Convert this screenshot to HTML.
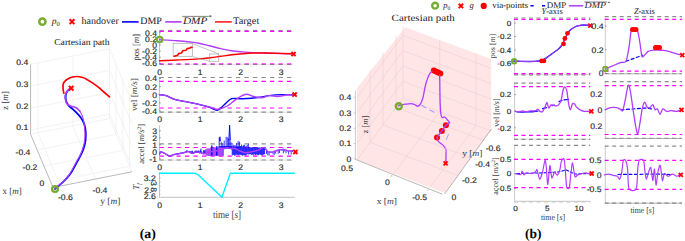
<!DOCTYPE html><html><head><meta charset="utf-8"><style>html,body{margin:0;padding:0;background:#fff;width:685px;height:241px;overflow:hidden}svg{display:block} text{text-rendering:geometricPrecision}</style></head><body>
<svg width="685" height="241" viewBox="0 0 685 241">
<rect width="685" height="241" fill="#fff"/>
<circle cx="42.4" cy="21.7" r="3.1" fill="none" stroke="#77ac30" stroke-width="2.5"/>
<text x="51.8" y="24.3" font-size="9.5" font-family="'Liberation Serif', serif" fill="#262626" stroke="#262626" stroke-width="0.03" text-anchor="start" font-style="italic" >p</text>
<text x="56.6" y="26" font-size="6.5" font-family="'Liberation Serif', serif" fill="#262626" stroke="#262626" stroke-width="0.03" text-anchor="start" >0</text>
<path d="M69.6,19.3 L74.4,24.1 M69.6,24.1 L74.4,19.3" stroke="#ff0000" stroke-width="2" stroke-linecap="butt"/>
<text x="81.4" y="24.3" font-size="10" font-family="'Liberation Serif', serif" fill="#262626" stroke="#262626" stroke-width="0.03" text-anchor="start" textLength="37.4" lengthAdjust="spacingAndGlyphs" >handover</text>
<line x1="122" y1="21.9" x2="138.6" y2="21.9" stroke="#0000ff" stroke-width="1.6" />
<text x="140.3" y="24.3" font-size="10" font-family="'Liberation Serif', serif" fill="#262626" stroke="#262626" stroke-width="0.03" text-anchor="start" textLength="21.6" lengthAdjust="spacingAndGlyphs" >DMP</text>
<line x1="165.2" y1="21.9" x2="181.6" y2="21.9" stroke="#b13dff" stroke-width="1.6" />
<text x="182.9" y="24.3" font-size="10" font-family="'Liberation Serif', serif" fill="#262626" stroke="#262626" stroke-width="0.03" text-anchor="start" textLength="24.5" lengthAdjust="spacingAndGlyphs" font-style="italic" >DMP</text>
<line x1="182.3" y1="16.4" x2="208.6" y2="16.4" stroke="#333" stroke-width="0.6" />
<text x="208.8" y="18.6" font-size="6" font-family="'Liberation Serif', serif" fill="#262626" stroke="#262626" stroke-width="0.03" text-anchor="start" >*</text>
<line x1="215" y1="21.9" x2="231.8" y2="21.9" stroke="#ff0000" stroke-width="1.4" />
<text x="233" y="24.3" font-size="10" font-family="'Liberation Serif', serif" fill="#262626" stroke="#262626" stroke-width="0.03" text-anchor="start" textLength="26.4" lengthAdjust="spacingAndGlyphs" >Target</text>
<text x="54.2" y="45.1" font-size="9" font-family="'Liberation Serif', serif" fill="#262626" stroke="#262626" stroke-width="0.03" text-anchor="start" textLength="55.4" lengthAdjust="spacingAndGlyphs" >Cartesian path</text>
<line x1="30.6" y1="64.4" x2="109.5" y2="48.7" stroke="#e6e6e6" stroke-width="0.5" />
<line x1="109.5" y1="48.7" x2="131.9" y2="101.9" stroke="#e6e6e6" stroke-width="0.5" />
<line x1="109.5" y1="118.6" x2="109.5" y2="48.7" stroke="#e6e6e6" stroke-width="0.5" />
<line x1="30.6" y1="134.3" x2="109.5" y2="118.6" stroke="#e6e6e6" stroke-width="0.5" />
<line x1="109.5" y1="118.6" x2="131.9" y2="171.8" stroke="#e6e6e6" stroke-width="0.5" />
<line x1="30.6" y1="86.1" x2="109.5" y2="70.4" stroke="#e6e6e6" stroke-width="0.5" />
<line x1="109.5" y1="70.4" x2="131.9" y2="123.6" stroke="#e6e6e6" stroke-width="0.5" />
<line x1="30.6" y1="108.2" x2="109.5" y2="92.5" stroke="#e6e6e6" stroke-width="0.5" />
<line x1="109.5" y1="92.5" x2="131.9" y2="145.7" stroke="#e6e6e6" stroke-width="0.5" />
<line x1="30.6" y1="129.9" x2="109.5" y2="114.2" stroke="#e6e6e6" stroke-width="0.5" />
<line x1="109.5" y1="114.2" x2="131.9" y2="167.4" stroke="#e6e6e6" stroke-width="0.5" />
<line x1="38.02" y1="132.82" x2="38.02" y2="62.92" stroke="#e6e6e6" stroke-width="0.5" />
<line x1="38.02" y1="132.82" x2="60.42" y2="186.02" stroke="#e6e6e6" stroke-width="0.5" />
<line x1="72.97" y1="125.87" x2="72.97" y2="55.97" stroke="#e6e6e6" stroke-width="0.5" />
<line x1="72.97" y1="125.87" x2="95.37" y2="179.07" stroke="#e6e6e6" stroke-width="0.5" />
<line x1="116.11" y1="134.29" x2="116.11" y2="64.39" stroke="#e6e6e6" stroke-width="0.5" />
<line x1="116.11" y1="134.29" x2="37.21" y2="149.99" stroke="#e6e6e6" stroke-width="0.5" />
<line x1="122.85" y1="150.31" x2="122.85" y2="80.41" stroke="#e6e6e6" stroke-width="0.5" />
<line x1="122.85" y1="150.31" x2="43.95" y2="166.01" stroke="#e6e6e6" stroke-width="0.5" />
<line x1="129.59" y1="166.32" x2="129.59" y2="96.42" stroke="#e6e6e6" stroke-width="0.5" />
<line x1="129.59" y1="166.32" x2="50.69" y2="182.02" stroke="#e6e6e6" stroke-width="0.5" />
<line x1="30.6" y1="64.4" x2="30.6" y2="134.3" stroke="#8a8a8a" stroke-width="0.6" />
<line x1="30.6" y1="134.3" x2="53" y2="187.5" stroke="#8a8a8a" stroke-width="0.6" />
<line x1="53" y1="187.5" x2="131.9" y2="171.8" stroke="#8a8a8a" stroke-width="0.6" />
<text x="28.2" y="65.1" font-size="8" font-family="'Liberation Sans', sans-serif" fill="#262626" stroke="#262626" stroke-width="0.15" text-anchor="end" textLength="12.01" lengthAdjust="spacingAndGlyphs" >0.4</text>
<text x="28.2" y="86.5" font-size="8" font-family="'Liberation Sans', sans-serif" fill="#262626" stroke="#262626" stroke-width="0.15" text-anchor="end" textLength="12.01" lengthAdjust="spacingAndGlyphs" >0.3</text>
<text x="28.2" y="108.6" font-size="8" font-family="'Liberation Sans', sans-serif" fill="#262626" stroke="#262626" stroke-width="0.15" text-anchor="end" textLength="12.01" lengthAdjust="spacingAndGlyphs" >0.2</text>
<text x="28.2" y="130.3" font-size="8" font-family="'Liberation Sans', sans-serif" fill="#262626" stroke="#262626" stroke-width="0.15" text-anchor="end" textLength="12.01" lengthAdjust="spacingAndGlyphs" >0.1</text>
<text x="23" y="154.6" font-size="8" font-family="'Liberation Sans', sans-serif" fill="#262626" stroke="#262626" stroke-width="0.15" text-anchor="middle" textLength="14.89" lengthAdjust="spacingAndGlyphs" >-0.4</text>
<text x="30" y="170.4" font-size="8" font-family="'Liberation Sans', sans-serif" fill="#262626" stroke="#262626" stroke-width="0.15" text-anchor="middle" textLength="14.89" lengthAdjust="spacingAndGlyphs" >-0.2</text>
<text x="42" y="185.9" font-size="8" font-family="'Liberation Sans', sans-serif" fill="#262626" stroke="#262626" stroke-width="0.15" text-anchor="middle" textLength="4.8" lengthAdjust="spacingAndGlyphs" >0</text>
<text x="65.4" y="199.9" font-size="8" font-family="'Liberation Sans', sans-serif" fill="#262626" stroke="#262626" stroke-width="0.15" text-anchor="middle" textLength="14.89" lengthAdjust="spacingAndGlyphs" >-0.6</text>
<text x="100" y="192.9" font-size="8" font-family="'Liberation Sans', sans-serif" fill="#262626" stroke="#262626" stroke-width="0.15" text-anchor="middle" textLength="14.89" lengthAdjust="spacingAndGlyphs" >-0.4</text>
<text x="7.6" y="100.6" font-size="9" font-family="'Liberation Serif', serif" fill="#404040" stroke="#404040" stroke-width="0.03" text-anchor="middle" textLength="19" lengthAdjust="spacingAndGlyphs" transform="rotate(-90 7.6 100.6)" >z [<tspan font-style="italic">m</tspan>]</text>
<text x="2.6" y="194" font-size="9" font-family="'Liberation Serif', serif" fill="#404040" stroke="#404040" stroke-width="0.03" text-anchor="start" textLength="19.2" lengthAdjust="spacingAndGlyphs" >x [<tspan font-style="italic">m</tspan>]</text>
<text x="100.2" y="204.2" font-size="9" font-family="'Liberation Serif', serif" fill="#404040" stroke="#404040" stroke-width="0.03" text-anchor="start" textLength="20.2" lengthAdjust="spacingAndGlyphs" >y [<tspan font-style="italic">m</tspan>]</text>
<path d="M63.8,93.2 C63.68,92.48 63.22,90.35 63.1,88.9 C62.98,87.45 62.87,85.72 63.1,84.5 C63.33,83.28 63.65,82.57 64.5,81.6 C65.35,80.63 66.87,79.47 68.2,78.7 C69.53,77.93 71.05,77.37 72.5,77 C73.95,76.63 75.33,76.45 76.9,76.5 C78.47,76.55 80.22,76.82 81.9,77.3 C83.58,77.78 85.18,78.43 87,79.4 C88.82,80.37 90.87,81.77 92.8,83.1 C94.73,84.43 96.67,85.83 98.6,87.4 C100.53,88.97 102.58,90.92 104.4,92.5 C106.22,94.08 108.65,96.17 109.5,96.9" fill="none" stroke="#ff0000" stroke-width="1.7" stroke-linejoin="round" stroke-linecap="round" />
<path d="M69.5,89.1 C69.17,89.42 68.08,90.18 67.5,91 C66.92,91.82 66.32,92.92 66,94 C65.68,95.08 65.57,96.3 65.6,97.5 C65.63,98.7 65.68,99.85 66.2,101.2 C66.72,102.55 67.65,104.32 68.7,105.6 C69.75,106.88 71.05,107.55 72.5,108.9 C73.95,110.25 75.95,112.15 77.4,113.7 C78.85,115.25 80.15,116.72 81.2,118.2 C82.25,119.68 83.02,120.92 83.7,122.6 C84.38,124.28 84.95,126.25 85.3,128.3 C85.65,130.35 85.83,132.42 85.8,134.9 C85.77,137.38 85.55,140.7 85.1,143.2 C84.65,145.7 83.87,147.82 83.1,149.9 C82.33,151.98 81.48,153.75 80.5,155.7 C79.52,157.65 78.35,159.5 77.2,161.6 C76.05,163.7 74.77,166.22 73.6,168.3 C72.43,170.38 71.47,172.32 70.2,174.1 C68.93,175.88 67.4,177.48 66,179 C64.6,180.52 63.33,181.82 61.8,183.2 C60.27,184.58 57.93,186.33 56.8,187.3 C55.67,188.27 55.3,188.72 55,189" fill="none" stroke="#0000ff" stroke-width="1.8" stroke-linejoin="round" stroke-linecap="round" />
<path d="M69.5,89.1 C69.13,89.42 67.95,90.18 67.3,91 C66.65,91.82 65.97,92.92 65.6,94 C65.23,95.08 65.1,96.5 65.1,97.5 C65.1,98.5 65.32,98.97 65.6,100 C65.88,101.03 65.87,102.67 66.8,103.7 C67.73,104.73 69.63,105.53 71.2,106.2 C72.77,106.87 74.75,106.87 76.2,107.7 C77.65,108.53 79.28,110.62 79.9,111.2" fill="none" stroke="#b13dff" stroke-width="1.6" stroke-linejoin="round" stroke-linecap="round" />
<path d="M79.9,111.2 C80.32,112.03 81.77,114.53 82.4,116.2 C83.03,117.87 83.33,119.18 83.7,121.2 C84.07,123.22 84.38,126.02 84.6,128.3 C84.82,130.58 85.07,132.42 85,134.9 C84.93,137.38 84.65,140.7 84.2,143.2 C83.75,145.7 83.03,147.82 82.3,149.9 C81.57,151.98 80.77,153.75 79.8,155.7 C78.83,157.65 77.63,159.5 76.5,161.6 C75.37,163.7 74.15,166.22 73,168.3 C71.85,170.38 70.83,172.32 69.6,174.1 C68.37,175.88 66.97,177.48 65.6,179 C64.23,180.52 62.92,181.87 61.4,183.2 C59.88,184.53 57.57,186.03 56.5,187 C55.43,187.97 55.25,188.67 55,189" fill="none" stroke="#b13dff" stroke-width="1.1" stroke-linejoin="round" stroke-linecap="round" />
<path d="M68.9,85.9 L73.5,90.5 M68.9,90.5 L73.5,85.9" stroke="#ff0000" stroke-width="2" stroke-linecap="butt"/>
<circle cx="55" cy="189" r="2.9" fill="none" stroke="#77ac30" stroke-width="2.3"/>
<line x1="159.5" y1="30.5" x2="159.5" y2="64.8" stroke="#9a9a9a" stroke-width="0.6" />
<line x1="159.5" y1="64.7" x2="292.6" y2="64.7" stroke="#dcdcdc" stroke-width="1" />
<line x1="159.5" y1="30.4" x2="292.6" y2="30.4" stroke="#8c8c8c" stroke-width="1" stroke-dasharray="4.3 4.2"/>
<line x1="159.5" y1="31.4" x2="292.6" y2="31.4" stroke="#ff00ff" stroke-width="1.1" stroke-dasharray="4.3 4.2"/>
<line x1="159.5" y1="64.5" x2="292.6" y2="64.5" stroke="#8c8c8c" stroke-width="1" stroke-dasharray="4.3 4.2"/>
<line x1="159.5" y1="63.8" x2="292.6" y2="63.8" stroke="#ff00ff" stroke-width="0.9" stroke-dasharray="4.3 4.2"/>
<text x="157" y="35.7" font-size="8" font-family="'Liberation Sans', sans-serif" fill="#262626" stroke="#262626" stroke-width="0.15" text-anchor="end" textLength="12.01" lengthAdjust="spacingAndGlyphs" >0.4</text>
<line x1="159.5" y1="32.8" x2="160.8" y2="32.8" stroke="#262626" stroke-width="0.5" />
<text x="157" y="41.8" font-size="8" font-family="'Liberation Sans', sans-serif" fill="#262626" stroke="#262626" stroke-width="0.15" text-anchor="end" textLength="12.01" lengthAdjust="spacingAndGlyphs" >0.2</text>
<line x1="159.5" y1="38.9" x2="160.8" y2="38.9" stroke="#262626" stroke-width="0.5" />
<text x="157" y="47.9" font-size="8" font-family="'Liberation Sans', sans-serif" fill="#262626" stroke="#262626" stroke-width="0.15" text-anchor="end" textLength="4.8" lengthAdjust="spacingAndGlyphs" >0</text>
<line x1="159.5" y1="45" x2="160.8" y2="45" stroke="#262626" stroke-width="0.5" />
<text x="157" y="54" font-size="8" font-family="'Liberation Sans', sans-serif" fill="#262626" stroke="#262626" stroke-width="0.15" text-anchor="end" textLength="14.89" lengthAdjust="spacingAndGlyphs" >-0.2</text>
<line x1="159.5" y1="51.1" x2="160.8" y2="51.1" stroke="#262626" stroke-width="0.5" />
<text x="157" y="60.1" font-size="8" font-family="'Liberation Sans', sans-serif" fill="#262626" stroke="#262626" stroke-width="0.15" text-anchor="end" textLength="14.89" lengthAdjust="spacingAndGlyphs" >-0.4</text>
<line x1="159.5" y1="57.2" x2="160.8" y2="57.2" stroke="#262626" stroke-width="0.5" />
<text x="157" y="66.2" font-size="8" font-family="'Liberation Sans', sans-serif" fill="#262626" stroke="#262626" stroke-width="0.15" text-anchor="end" textLength="14.89" lengthAdjust="spacingAndGlyphs" >-0.6</text>
<line x1="159.5" y1="63.3" x2="160.8" y2="63.3" stroke="#262626" stroke-width="0.5" />
<text x="138.6" y="47.2" font-size="9" font-family="'Liberation Serif', serif" fill="#404040" stroke="#404040" stroke-width="0.03" text-anchor="middle" textLength="27" lengthAdjust="spacingAndGlyphs" transform="rotate(-90 138.6 47.2)" >pos [<tspan font-style="italic">m</tspan>]</text>
<path d="M159.5,39.7 C162.4,39.88 171.82,40.42 176.9,40.8 C181.98,41.18 186.35,41.6 190,42 C193.65,42.4 195.52,42.57 198.8,43.2 C202.08,43.83 206.05,44.9 209.7,45.8 C213.35,46.7 217.05,47.77 220.7,48.6 C224.35,49.43 227.95,50.25 231.6,50.8 C235.25,51.35 238.95,51.6 242.6,51.9 C246.25,52.2 249.85,52.42 253.5,52.6 C257.15,52.78 260.08,52.85 264.5,53 C268.92,53.15 275.42,53.37 280,53.5 C284.58,53.63 290,53.75 292,53.8" fill="none" stroke="#b13dff" stroke-width="1.4" stroke-linejoin="round" stroke-linecap="round" />
<path d="M159.5,60.7 C162.4,60.58 170.35,60.3 176.9,60 C183.45,59.7 193.28,59.27 198.8,58.9 C204.32,58.53 206.35,58.23 210,57.8 C213.65,57.37 217.1,56.8 220.7,56.3 C224.3,55.8 227.95,55.23 231.6,54.8 C235.25,54.37 238.95,54 242.6,53.7 C246.25,53.4 249.85,53.12 253.5,53 C257.15,52.88 260.08,52.93 264.5,53 C268.92,53.07 275.42,53.27 280,53.4 C284.58,53.53 290,53.73 292,53.8" fill="none" stroke="#ff0000" stroke-width="1.4" stroke-linejoin="round" stroke-linecap="round" />
<rect x="173.1" y="43.6" width="19.5" height="13" fill="#fff" stroke="#8a8a8a" stroke-width="0.5"/>
<path d="M174.1,56.2 L177.6,55.3 L178.7,53.5 L181.6,53 L182.6,50.8 L186.1,50.2 L187.1,48.6 L189.8,48.1 L190.8,47.3 L192,47.4" fill="none" stroke="#ff0000" stroke-width="1.6" stroke-linejoin="round" stroke-linecap="round" stroke-linejoin="miter"/>
<rect x="209.4" y="54" width="9.4" height="7.2" fill="none" stroke="#8a8a8a" stroke-width="0.5"/>
<line x1="192.6" y1="43.6" x2="218.8" y2="54" stroke="#8a8a8a" stroke-width="0.5" />
<line x1="192.6" y1="56.6" x2="209.4" y2="61.2" stroke="#8a8a8a" stroke-width="0.5" />
<path d="M291.4,52 L295.6,56.2 M291.4,56.2 L295.6,52" stroke="#ff0000" stroke-width="1.9" stroke-linecap="butt"/>
<circle cx="159.6" cy="39.5" r="2.8" fill="none" stroke="#77ac30" stroke-width="2.1"/>
<text x="159.6" y="75" font-size="8" font-family="'Liberation Sans', sans-serif" fill="#262626" stroke="#262626" stroke-width="0.15" text-anchor="middle" textLength="4.8" lengthAdjust="spacingAndGlyphs" >0</text>
<text x="200.1" y="75" font-size="8" font-family="'Liberation Sans', sans-serif" fill="#262626" stroke="#262626" stroke-width="0.15" text-anchor="middle" textLength="4.8" lengthAdjust="spacingAndGlyphs" >1</text>
<text x="240.6" y="75" font-size="8" font-family="'Liberation Sans', sans-serif" fill="#262626" stroke="#262626" stroke-width="0.15" text-anchor="middle" textLength="4.8" lengthAdjust="spacingAndGlyphs" >2</text>
<text x="281.1" y="75" font-size="8" font-family="'Liberation Sans', sans-serif" fill="#262626" stroke="#262626" stroke-width="0.15" text-anchor="middle" textLength="4.8" lengthAdjust="spacingAndGlyphs" >3</text>
<line x1="159.5" y1="77" x2="159.5" y2="112.3" stroke="#9a9a9a" stroke-width="0.6" />
<line x1="159.5" y1="77.5" x2="292.6" y2="77.5" stroke="#8c8c8c" stroke-width="1.2" stroke-dasharray="4.3 4.2"/>
<line x1="159.5" y1="81.3" x2="292.6" y2="81.3" stroke="#ff00ff" stroke-width="1.2" stroke-dasharray="4.3 4.2"/>
<line x1="159.5" y1="108" x2="292.6" y2="108" stroke="#ff00ff" stroke-width="1.2" stroke-dasharray="4.3 4.2"/>
<line x1="159.5" y1="112.2" x2="292.6" y2="112.2" stroke="#dcdcdc" stroke-width="1" />
<line x1="159.5" y1="112.1" x2="292.6" y2="112.1" stroke="#8c8c8c" stroke-width="1.2" stroke-dasharray="4.3 4.2"/>
<text x="157" y="81.4" font-size="8" font-family="'Liberation Sans', sans-serif" fill="#262626" stroke="#262626" stroke-width="0.15" text-anchor="end" textLength="12.01" lengthAdjust="spacingAndGlyphs" >0.4</text>
<line x1="159.5" y1="78.5" x2="160.8" y2="78.5" stroke="#262626" stroke-width="0.5" />
<text x="157" y="89.5" font-size="8" font-family="'Liberation Sans', sans-serif" fill="#262626" stroke="#262626" stroke-width="0.15" text-anchor="end" textLength="12.01" lengthAdjust="spacingAndGlyphs" >0.2</text>
<line x1="159.5" y1="86.6" x2="160.8" y2="86.6" stroke="#262626" stroke-width="0.5" />
<text x="157" y="97.6" font-size="8" font-family="'Liberation Sans', sans-serif" fill="#262626" stroke="#262626" stroke-width="0.15" text-anchor="end" textLength="4.8" lengthAdjust="spacingAndGlyphs" >0</text>
<line x1="159.5" y1="94.7" x2="160.8" y2="94.7" stroke="#262626" stroke-width="0.5" />
<text x="157" y="105.7" font-size="8" font-family="'Liberation Sans', sans-serif" fill="#262626" stroke="#262626" stroke-width="0.15" text-anchor="end" textLength="14.89" lengthAdjust="spacingAndGlyphs" >-0.2</text>
<line x1="159.5" y1="102.8" x2="160.8" y2="102.8" stroke="#262626" stroke-width="0.5" />
<text x="157" y="113.8" font-size="8" font-family="'Liberation Sans', sans-serif" fill="#262626" stroke="#262626" stroke-width="0.15" text-anchor="end" textLength="14.89" lengthAdjust="spacingAndGlyphs" >-0.4</text>
<line x1="159.5" y1="110.9" x2="160.8" y2="110.9" stroke="#262626" stroke-width="0.5" />
<text x="137.4" y="94.6" font-size="8.8" font-family="'Liberation Serif', serif" fill="#404040" stroke="#404040" stroke-width="0.03" text-anchor="middle" textLength="33" lengthAdjust="spacingAndGlyphs" transform="rotate(-90 137.4 94.6)" >vel [<tspan font-style="italic">m/s</tspan>]</text>
<path d="M159.4,94.6 C160.5,94.77 163.45,94.8 166,95.6 C168.55,96.4 171.42,98.4 174.7,99.4 C177.98,100.4 181.68,100.77 185.7,101.6 C189.72,102.43 194.8,103.43 198.8,104.4 C202.8,105.37 206.6,106.42 209.7,107.4 C212.8,108.38 215.02,110.7 217.4,110.3 C219.78,109.9 221.63,106.93 224,105 C226.37,103.07 228.5,99.75 231.6,98.7 C234.7,97.65 237.87,98.95 242.6,98.7 C247.33,98.45 255.62,97.72 260,97.2 C264.38,96.68 265.23,96.03 268.9,95.6 C272.57,95.17 277.82,94.7 282,94.6 C286.18,94.5 292,94.93 294,95" fill="none" stroke="#0000ff" stroke-width="1.4" stroke-linejoin="round" stroke-linecap="round" />
<path d="M159.4,94.6 C160.5,94.77 163.45,94.8 166,95.6 C168.55,96.4 171.42,98.4 174.7,99.4 C177.98,100.4 181.68,100.77 185.7,101.6 C189.72,102.43 194.8,103.5 198.8,104.4 C202.8,105.3 206.6,106.2 209.7,107 C212.8,107.8 214.47,109.37 217.4,109.2 C220.33,109.03 224.2,107.63 227.3,106 C230.4,104.37 232.9,101.35 236,99.4 C239.1,97.45 242.98,94.78 245.9,94.3 C248.82,93.82 250.77,95.92 253.5,96.5 C256.23,97.08 259.73,97.95 262.3,97.8 C264.87,97.65 266.35,95.82 268.9,95.6 C271.45,95.38 274.68,96.6 277.6,96.5 C280.52,96.4 283.67,95.25 286.4,95 C289.13,94.75 292.73,95 294,95" fill="none" stroke="#b13dff" stroke-width="1.4" stroke-linejoin="round" stroke-linecap="round" />
<path d="M292.5,92.5 L296.7,96.7 M292.5,96.7 L296.7,92.5" stroke="#ff0000" stroke-width="1.9" stroke-linecap="butt"/>
<text x="159.6" y="121.9" font-size="8" font-family="'Liberation Sans', sans-serif" fill="#262626" stroke="#262626" stroke-width="0.15" text-anchor="middle" textLength="4.8" lengthAdjust="spacingAndGlyphs" >0</text>
<text x="200.1" y="121.9" font-size="8" font-family="'Liberation Sans', sans-serif" fill="#262626" stroke="#262626" stroke-width="0.15" text-anchor="middle" textLength="4.8" lengthAdjust="spacingAndGlyphs" >1</text>
<text x="240.6" y="121.9" font-size="8" font-family="'Liberation Sans', sans-serif" fill="#262626" stroke="#262626" stroke-width="0.15" text-anchor="middle" textLength="4.8" lengthAdjust="spacingAndGlyphs" >2</text>
<text x="281.1" y="121.9" font-size="8" font-family="'Liberation Sans', sans-serif" fill="#262626" stroke="#262626" stroke-width="0.15" text-anchor="middle" textLength="4.8" lengthAdjust="spacingAndGlyphs" >3</text>
<line x1="159.5" y1="125.3" x2="159.5" y2="160.4" stroke="#9a9a9a" stroke-width="0.6" />
<line x1="159.5" y1="143.8" x2="292.6" y2="143.8" stroke="#8c8c8c" stroke-width="1.2" stroke-dasharray="4.3 4.2"/>
<line x1="159.5" y1="147.5" x2="292.6" y2="147.5" stroke="#ff00ff" stroke-width="1.2" stroke-dasharray="4.3 4.2"/>
<line x1="159.5" y1="156.1" x2="292.6" y2="156.1" stroke="#ff00ff" stroke-width="1.2" stroke-dasharray="4.3 4.2"/>
<line x1="159.5" y1="160.1" x2="292.6" y2="160.1" stroke="#dcdcdc" stroke-width="1" />
<line x1="159.5" y1="160" x2="292.6" y2="160" stroke="#8c8c8c" stroke-width="1.2" stroke-dasharray="4.3 4.2"/>
<text x="157" y="133.7" font-size="8" font-family="'Liberation Sans', sans-serif" fill="#262626" stroke="#262626" stroke-width="0.15" text-anchor="end" textLength="4.8" lengthAdjust="spacingAndGlyphs" >3</text>
<line x1="159.5" y1="130.8" x2="160.8" y2="130.8" stroke="#262626" stroke-width="0.5" />
<text x="157" y="140.7" font-size="8" font-family="'Liberation Sans', sans-serif" fill="#262626" stroke="#262626" stroke-width="0.15" text-anchor="end" textLength="4.8" lengthAdjust="spacingAndGlyphs" >2</text>
<line x1="159.5" y1="137.8" x2="160.8" y2="137.8" stroke="#262626" stroke-width="0.5" />
<text x="157" y="147.7" font-size="8" font-family="'Liberation Sans', sans-serif" fill="#262626" stroke="#262626" stroke-width="0.15" text-anchor="end" textLength="4.8" lengthAdjust="spacingAndGlyphs" >1</text>
<line x1="159.5" y1="144.8" x2="160.8" y2="144.8" stroke="#262626" stroke-width="0.5" />
<text x="157" y="154.7" font-size="8" font-family="'Liberation Sans', sans-serif" fill="#262626" stroke="#262626" stroke-width="0.15" text-anchor="end" textLength="4.8" lengthAdjust="spacingAndGlyphs" >0</text>
<line x1="159.5" y1="151.8" x2="160.8" y2="151.8" stroke="#262626" stroke-width="0.5" />
<text x="157" y="161.7" font-size="8" font-family="'Liberation Sans', sans-serif" fill="#262626" stroke="#262626" stroke-width="0.15" text-anchor="end" textLength="7.68" lengthAdjust="spacingAndGlyphs" >-1</text>
<line x1="159.5" y1="158.8" x2="160.8" y2="158.8" stroke="#262626" stroke-width="0.5" />
<text x="144.2" y="143.8" font-size="8.5" font-family="'Liberation Serif', serif" fill="#404040" stroke="#404040" stroke-width="0.03" text-anchor="middle" transform="rotate(-90 144.2 143.8)" >accel [<tspan font-style="italic">m/s</tspan><tspan font-size="5.5" dy="-3">2</tspan><tspan dy="3">]</tspan></text>
<path d="M186,151.3 V152.26 M186.6,150.31 V152.01 M187.2,150.44 V152.14 M187.8,151.47 V152.12 M188.4,151.49 V152.02 M189,151.67 V151.93 M189.6,151.03 V152.92 M190.2,152.04 V152.57 M190.8,151.04 V153.55 M191.4,151.42 V153.26 M192,150.67 V153.16 M192.6,150.92 V153.36 M193.2,152.51 V152.99 M193.8,151.91 V153.5 M194.4,152.03 V153.07 M195,150.69 V152.66 M195.6,150.73 V152.16 M196.2,151.75 V152.11 M196.8,150.31 V152.44 M197.4,151.34 V152.71 M198,151.1 V152.53 M198.6,150.36 V153.04 M199.2,151.84 V153.03 M199.8,151.25 V153.44 M200.4,149.44 V153.01 M201,148.49 V153.02 M201.6,151.2 V153.84 M202.2,152.58 V153.75 M202.8,153.26 V154.11 M203.4,150.18 V154.19 M204,149.86 V154.11 M204.6,150.48 V154.2 M205.2,150.8 V153.87 M205.8,149.44 V154.16 M206.4,150.89 V153.68 M207,152.55 V153.53 M207.6,149.72 V153.62 M208.2,148.98 V155.5 M208.8,150.45 V155.5 M209.4,149.99 V155.5 M210,148.99 V155.5 M210.6,150.78 V155.5 M211.2,149.31 V155.5 M211.8,150.05 V155.5 M212.4,150.1 V155.5 M213,150.2 V155.5 M213.6,148 V155.5 M214.2,149.84 V155.5 M214.8,149.41 V155.5 M215.4,148.9 V155.5 M216,147.39 V155.5 M216.6,149.61 V155.5 M217.2,148.35 V155.5 M217.8,147.9 V155.5 M218.4,146.75 V155.5 M219,146.79 V155.5 M219.6,146 V155.7 M220.2,146 V155.7 M220.8,146 V155.7 M221.4,146 V155.7 M222,146 V155.7 M222.6,146 V155.7 M223.2,146 V155.7 M223.8,146 V149.29 M224.4,146 V149.16 M225,146 V149.04 M225.6,146 V148.91 M226.2,146 V148.78 M226.8,146 V148.65 M227.4,146 V148.52 M228,146 V148.61 M228.6,146 V148.74 M229.2,146 V148.86 M229.8,146 V148.99 M230.4,146 V149.12 M231,146 V149.25 M231.6,146 V149.38 M232.2,146.5 V155.6 M232.8,146.5 V154.72 M233.4,146.5 V154.92 M234,146.5 V154.84 M234.6,146.5 V155.63 M235.2,146.5 V155.74 M235.8,146.5 V154.53 M236.4,146.5 V154.56 M237,146.5 V154.65 M237.6,146.5 V154.65 M238.2,146.5 V155.03 M238.8,146.5 V155.18 M239.4,146.5 V154.69 M240,146.5 V154.31 M240.6,146.5 V154.93 M241.2,146.5 V154.85 M241.8,146.5 V155.15 M242.4,146.5 V155.73 M243,146.5 V155.34 M243.6,146.5 V155.07 M244.2,146.5 V155.23 M244.8,146.5 V155.31 M245.4,147.05 V155.35 M246,147.78 V155.31 M246.6,147.8 V154.59 M247.2,147.4 V154.16 M247.8,147.63 V154.09 M248.4,147.07 V154.31 M249,147.16 V154.51 M249.6,147.05 V154 M250.2,147.15 V154.15 M250.8,147.36 V154.04 M251.4,147.87 V154.92 M252,147.15 V154.38 M252.6,147.35 V154.55 M253.2,147.12 V155.27 M253.8,147.99 V154.7 M254.4,147.48 V154.13 M255,147.1 V154.51 M255.6,147.26 V155.24 M256.2,147.16 V154.03 M256.8,147.95 V154.79 M257.4,147.15 V154.81 M258,147.03 V154.79 M258.6,147.98 V155.29 M259.2,147.7 V154.39 M259.8,147.37 V154.25 M260.4,147.77 V154.8 M261,147.78 V154.49 M261.6,147.22 V155.22 M262.2,147.98 V155.28 M262.8,147.81 V155.23 M263.4,147.74 V154.34 M264,147.52 V154.53 M264.6,147.03 V154.04 M265.2,148.41 V149.72 M266.5,149.39 V153.9 M267.8,151.02 V155.22 M269.1,150.91 V155.72 M270.4,151.54 V152.78 M271.7,151.67 V152.69 M273,151.7 V154.4 M274.3,150.59 V154.85 M275.6,150.57 V153.66 M276.9,149.81 V150.95 M278.2,149.52 V153.82 M279.5,149.19 V152.98 M280.8,149.29 V150.48 M282.1,148.77 V150.89 M283.4,148.7 V153.38 M284.7,149.52 V151.52 M286,149.38 V153.23 M287.3,150.57 V151.25 M288.6,150.81 V154.58 M289.9,150.05 V151.44 M291.2,149.92 V154.67 M292.5,149.98 V152.04 M293.8,150.05 V151.12 M219.2,137.46 V147 M221.27,142.02 V147 M222.8,143.3 V147 M224.22,140.52 V147 M226.11,136.75 V147 M227.31,137.12 V147 M228.5,138.44 V147 M229.71,139.29 V147 M230.77,141.5 V147 M232.09,142.86 V147 M233.69,144.87 V147 M235.1,144.93 V147 M236.6,143.19 V147 M238.13,140.88 V147 M239.56,141.62 V147 M240.46,146 V147 M241.57,144.53 V147 M243.34,144.9 V147 M244.63,144.73 V147 M246.2,145.93 V147 M247.22,144.92 V147 M248.42,143.65 V147" stroke="#0000ff" stroke-width="0.75" fill="none"/>
<path d="M205.4,155.8 L205.6,149.5 L207,148.2 L209,148.6 L211,147.6 L213,148.3 L215,147.4 L217.5,147.8 L219.5,147.3 L222.9,147.6 L222.9,156.2 Z" fill="#b048ff" opacity="0.92"/>
<path d="M211.5,155 L211.8,145.5 L212.2,155" fill="none" stroke="#0000ff" stroke-width="0.8" stroke-linejoin="round" stroke-linecap="round" />
<path d="M216.5,155 L216.8,146.2 L217.2,155" fill="none" stroke="#0000ff" stroke-width="0.8" stroke-linejoin="round" stroke-linecap="round" />
<path d="M228.9,140 L229.6,125.2 L230.3,140" fill="none" stroke="#0000ff" stroke-width="1" stroke-linejoin="round" stroke-linecap="round" />
<path d="M219.5,141 L219.9,136.8 L220.4,141" fill="none" stroke="#0000ff" stroke-width="0.9" stroke-linejoin="round" stroke-linecap="round" />
<path d="M159.6,153.9 C159.83,153.57 160.22,152.02 161,151.9 C161.78,151.78 162.87,152.53 164.3,153.2 C165.73,153.87 168.05,155.67 169.6,155.9 C171.15,156.13 172.05,154.98 173.6,154.6 C175.15,154.22 177.13,153.93 178.9,153.6 C180.67,153.27 182.65,152.95 184.2,152.6 C185.75,152.25 186.87,151.4 188.2,151.5 C189.53,151.6 190.87,153.13 192.2,153.2 C193.53,153.27 194.9,152 196.2,151.9 C197.5,151.8 199.37,152.48 200,152.6" fill="none" stroke="#0000ff" stroke-width="1.2" stroke-linejoin="round" stroke-linecap="round" />
<path d="M159.6,153.9 C159.83,153.57 160.22,152.02 161,151.9 C161.78,151.78 162.87,152.53 164.3,153.2 C165.73,153.87 168.05,155.67 169.6,155.9 C171.15,156.13 172.05,154.98 173.6,154.6 C175.15,154.22 177.13,153.93 178.9,153.6 C180.67,153.27 182.65,152.95 184.2,152.6 C185.75,152.25 186.87,151.4 188.2,151.5 C189.53,151.6 190.87,153.13 192.2,153.2 C193.53,153.27 194.9,152 196.2,151.9 C197.5,151.8 198.7,152.28 200,152.6 C201.3,152.92 202.67,153.82 204,153.8 C205.33,153.78 206.67,152.88 208,152.5 C209.33,152.12 210.67,151.75 212,151.5 C213.33,151.25 214.67,151.25 216,151 C217.33,150.75 218.75,150.42 220,150 C221.25,149.58 222.25,148.9 223.5,148.5 C224.75,148.1 226.17,147.6 227.5,147.6 C228.83,147.6 230.25,148.35 231.5,148.5 C232.75,148.65 233.58,148.08 235,148.5 C236.42,148.92 238.33,150.3 240,151 C241.67,151.7 243.07,152.55 245,152.7 C246.93,152.85 249.4,152.32 251.6,151.9 C253.8,151.48 256.13,150.95 258.2,150.2 C260.27,149.45 262.33,147.12 264,147.4 C265.67,147.68 266.68,151.15 268.2,151.9 C269.72,152.65 271.45,152.18 273.1,151.9 C274.75,151.62 276.43,150.62 278.1,150.2 C279.77,149.78 281.43,149.27 283.1,149.4 C284.77,149.53 286.45,150.8 288.1,151 C289.75,151.2 292.18,150.67 293,150.6" fill="none" stroke="#b13dff" stroke-width="1.4" stroke-linejoin="round" stroke-linecap="round" />
<path d="M293.3,149.8 L297.5,154 M293.3,154 L297.5,149.8" stroke="#ff0000" stroke-width="1.9" stroke-linecap="butt"/>
<text x="159.6" y="170.4" font-size="8" font-family="'Liberation Sans', sans-serif" fill="#262626" stroke="#262626" stroke-width="0.15" text-anchor="middle" textLength="4.8" lengthAdjust="spacingAndGlyphs" >0</text>
<text x="200.1" y="170.4" font-size="8" font-family="'Liberation Sans', sans-serif" fill="#262626" stroke="#262626" stroke-width="0.15" text-anchor="middle" textLength="4.8" lengthAdjust="spacingAndGlyphs" >1</text>
<text x="240.6" y="170.4" font-size="8" font-family="'Liberation Sans', sans-serif" fill="#262626" stroke="#262626" stroke-width="0.15" text-anchor="middle" textLength="4.8" lengthAdjust="spacingAndGlyphs" >2</text>
<text x="281.1" y="170.4" font-size="8" font-family="'Liberation Sans', sans-serif" fill="#262626" stroke="#262626" stroke-width="0.15" text-anchor="middle" textLength="4.8" lengthAdjust="spacingAndGlyphs" >3</text>
<line x1="159.5" y1="172.5" x2="159.5" y2="197.4" stroke="#9a9a9a" stroke-width="0.6" />
<line x1="159.5" y1="197.3" x2="294.6" y2="197.3" stroke="#999" stroke-width="0.6" />
<text x="155.8" y="180.7" font-size="8" font-family="'Liberation Sans', sans-serif" fill="#262626" stroke="#262626" stroke-width="0.15" text-anchor="end" textLength="12.01" lengthAdjust="spacingAndGlyphs" >3.2</text>
<text x="151.4" y="183.4" font-size="8" font-family="'Liberation Sans', sans-serif" fill="#262626" stroke="#262626" stroke-width="0.15" text-anchor="middle" textLength="4.8" lengthAdjust="spacingAndGlyphs" transform="rotate(90 151.4 183.4)" dx="0">3</text>
<text x="151.6" y="193.2" font-size="8" font-family="'Liberation Sans', sans-serif" fill="#262626" stroke="#262626" stroke-width="0.15" text-anchor="end" textLength="7.21" lengthAdjust="spacingAndGlyphs" >2.</text>
<text x="151.4" y="189.6" font-size="8" font-family="'Liberation Sans', sans-serif" fill="#262626" stroke="#262626" stroke-width="0.15" text-anchor="middle" textLength="4.8" lengthAdjust="spacingAndGlyphs" transform="rotate(90 151.4 189.6)" >8</text>
<text x="155.8" y="198.5" font-size="8" font-family="'Liberation Sans', sans-serif" fill="#262626" stroke="#262626" stroke-width="0.15" text-anchor="end" textLength="12.01" lengthAdjust="spacingAndGlyphs" >2.6</text>
<line x1="159.5" y1="178.2" x2="160.8" y2="178.2" stroke="#9a9a9a" stroke-width="0.5" />
<line x1="159.5" y1="182.2" x2="160.8" y2="182.2" stroke="#9a9a9a" stroke-width="0.5" />
<line x1="159.5" y1="186.3" x2="160.8" y2="186.3" stroke="#9a9a9a" stroke-width="0.5" />
<line x1="159.5" y1="190.3" x2="160.8" y2="190.3" stroke="#9a9a9a" stroke-width="0.5" />
<line x1="159.5" y1="194.3" x2="160.8" y2="194.3" stroke="#9a9a9a" stroke-width="0.5" />
<text x="139" y="186.5" font-size="9" font-family="'Liberation Serif', serif" fill="#404040" stroke="#404040" stroke-width="0.03" text-anchor="middle" transform="rotate(-90 139 186.5)" ><tspan font-style="italic">T</tspan><tspan font-size="5.5" dy="1.5" font-style="italic">f</tspan></text>
<path d="M159.3,173.3 L195.5,173.3 L198.2,174.8 L221.9,197.2 L230.3,173.3 L294.5,173.3" fill="none" stroke="#00f0ff" stroke-width="1.4" stroke-linejoin="round" stroke-linecap="round" />
<text x="159.6" y="207.5" font-size="8" font-family="'Liberation Sans', sans-serif" fill="#262626" stroke="#262626" stroke-width="0.15" text-anchor="middle" textLength="4.8" lengthAdjust="spacingAndGlyphs" >0</text>
<text x="200.1" y="207.5" font-size="8" font-family="'Liberation Sans', sans-serif" fill="#262626" stroke="#262626" stroke-width="0.15" text-anchor="middle" textLength="4.8" lengthAdjust="spacingAndGlyphs" >1</text>
<text x="240.6" y="207.5" font-size="8" font-family="'Liberation Sans', sans-serif" fill="#262626" stroke="#262626" stroke-width="0.15" text-anchor="middle" textLength="4.8" lengthAdjust="spacingAndGlyphs" >2</text>
<text x="281.1" y="207.5" font-size="8" font-family="'Liberation Sans', sans-serif" fill="#262626" stroke="#262626" stroke-width="0.15" text-anchor="middle" textLength="4.8" lengthAdjust="spacingAndGlyphs" >3</text>
<text x="212.9" y="218.2" font-size="10.3" font-family="'Liberation Serif', serif" fill="#404040" stroke="#404040" stroke-width="0.03" text-anchor="start" textLength="28.2" lengthAdjust="spacingAndGlyphs" >time [<tspan font-style="italic">s</tspan>]</text>
<text x="139.7" y="238" font-size="13.5" font-family="'Liberation Serif', serif" fill="#000" stroke="#000" stroke-width="0.03" text-anchor="start" textLength="16.2" lengthAdjust="spacingAndGlyphs" font-weight="bold" >(a)</text>
<circle cx="435.1" cy="5.7" r="2.95" fill="none" stroke="#77ac30" stroke-width="2.35"/>
<text x="443.3" y="8" font-size="8.5" font-family="'Liberation Serif', serif" fill="#262626" stroke="#262626" stroke-width="0.03" text-anchor="start" font-style="italic" >p</text>
<text x="447.6" y="9.5" font-size="5.5" font-family="'Liberation Serif', serif" fill="#262626" stroke="#262626" stroke-width="0.03" text-anchor="start" >0</text>
<path d="M458.7,3.7 L463.1,8.1 M458.7,8.1 L463.1,3.7" stroke="#ff0000" stroke-width="2" stroke-linecap="butt"/>
<text x="469.4" y="8" font-size="8.5" font-family="'Liberation Serif', serif" fill="#262626" stroke="#262626" stroke-width="0.03" text-anchor="start" font-style="italic" >g</text>
<circle cx="483.7" cy="5.9" r="3.1" fill="#ff0000"/>
<text x="492.2" y="7.9" font-size="8.7" font-family="'Liberation Serif', serif" fill="#262626" stroke="#262626" stroke-width="0.03" text-anchor="start" textLength="35.8" lengthAdjust="spacingAndGlyphs" >via-points</text>
<line x1="530.5" y1="5.8" x2="545.5" y2="5.8" stroke="#0000ff" stroke-width="1.5" stroke-dasharray="3.2 8.3"/>
<text x="546.7" y="7.9" font-size="8.7" font-family="'Liberation Serif', serif" fill="#262626" stroke="#262626" stroke-width="0.03" text-anchor="start" textLength="19.6" lengthAdjust="spacingAndGlyphs" >DMP</text>
<line x1="568.9" y1="5.8" x2="583.2" y2="5.8" stroke="#b13dff" stroke-width="1.5" />
<text x="584.6" y="7.9" font-size="8.7" font-family="'Liberation Serif', serif" fill="#262626" stroke="#262626" stroke-width="0.03" text-anchor="start" textLength="21.5" lengthAdjust="spacingAndGlyphs" font-style="italic" >DMP</text>
<line x1="584.3" y1="2" x2="607" y2="2" stroke="#333" stroke-width="0.6" />
<text x="607.5" y="4.6" font-size="5.5" font-family="'Liberation Serif', serif" fill="#262626" stroke="#262626" stroke-width="0.03" text-anchor="start" >*</text>
<text x="541.6" y="14.2" font-size="8.7" font-family="'Liberation Serif', serif" fill="#262626" stroke="#262626" stroke-width="0.03" text-anchor="start" textLength="21.1" lengthAdjust="spacingAndGlyphs" ><tspan font-style="italic">Y</tspan>-axis</text>
<text x="633.9" y="13.8" font-size="8.7" font-family="'Liberation Serif', serif" fill="#262626" stroke="#262626" stroke-width="0.03" text-anchor="start" textLength="20.9" lengthAdjust="spacingAndGlyphs" ><tspan font-style="italic">Z</tspan>-axis</text>
<text x="391.6" y="20.7" font-size="9.6" font-family="'Liberation Serif', serif" fill="#262626" stroke="#262626" stroke-width="0.03" text-anchor="start" textLength="63.1" lengthAdjust="spacingAndGlyphs" >Cartesian path</text>
<path d="M405.2,27.3 L491,59 L491.3,129.8 L445,193 L357,160 L357,88Z" fill="#ffe5e5" stroke="none"/>
<line x1="403" y1="98" x2="403" y2="26" stroke="#ecc8c8" stroke-width="0.5" />
<line x1="357" y1="160" x2="403" y2="98" stroke="#ecc8c8" stroke-width="0.5" />
<line x1="403" y1="98" x2="491" y2="131" stroke="#ecc8c8" stroke-width="0.5" />
<line x1="357" y1="143.35" x2="403" y2="81.35" stroke="#ecc8c8" stroke-width="0.5" />
<line x1="403" y1="81.35" x2="491" y2="114.35" stroke="#ecc8c8" stroke-width="0.5" />
<line x1="357" y1="128" x2="403" y2="66" stroke="#ecc8c8" stroke-width="0.5" />
<line x1="403" y1="66" x2="491" y2="99" stroke="#ecc8c8" stroke-width="0.5" />
<line x1="357" y1="112.65" x2="403" y2="50.65" stroke="#ecc8c8" stroke-width="0.5" />
<line x1="403" y1="50.65" x2="491" y2="83.65" stroke="#ecc8c8" stroke-width="0.5" />
<line x1="357" y1="97.3" x2="403" y2="35.3" stroke="#ecc8c8" stroke-width="0.5" />
<line x1="403" y1="35.3" x2="491" y2="68.3" stroke="#ecc8c8" stroke-width="0.5" />
<line x1="370.02" y1="142.45" x2="370.02" y2="70.45" stroke="#ecc8c8" stroke-width="0.5" />
<line x1="370.02" y1="142.45" x2="458.02" y2="175.45" stroke="#ecc8c8" stroke-width="0.5" />
<line x1="382.99" y1="124.97" x2="382.99" y2="52.97" stroke="#ecc8c8" stroke-width="0.5" />
<line x1="382.99" y1="124.97" x2="470.99" y2="157.97" stroke="#ecc8c8" stroke-width="0.5" />
<line x1="396.01" y1="107.42" x2="396.01" y2="35.42" stroke="#ecc8c8" stroke-width="0.5" />
<line x1="396.01" y1="107.42" x2="484.01" y2="140.42" stroke="#ecc8c8" stroke-width="0.5" />
<line x1="439.7" y1="111.76" x2="439.7" y2="39.76" stroke="#ecc8c8" stroke-width="0.5" />
<line x1="439.7" y1="111.76" x2="393.7" y2="173.76" stroke="#ecc8c8" stroke-width="0.5" />
<line x1="476.04" y1="125.39" x2="476.04" y2="53.39" stroke="#ecc8c8" stroke-width="0.5" />
<line x1="476.04" y1="125.39" x2="430.04" y2="187.39" stroke="#ecc8c8" stroke-width="0.5" />
<line x1="355.4" y1="90.6" x2="355.4" y2="159.3" stroke="#a8a8a8" stroke-width="0.6" />
<line x1="355.2" y1="159.3" x2="442.5" y2="194.3" stroke="#8a8a8a" stroke-width="0.6" />
<line x1="444.5" y1="194.2" x2="491.6" y2="128.8" stroke="#8a8a8a" stroke-width="0.6" />
<line x1="353.6" y1="97.3" x2="355.4" y2="97.3" stroke="#a8a8a8" stroke-width="0.5" />
<line x1="353.6" y1="113" x2="355.4" y2="113" stroke="#a8a8a8" stroke-width="0.5" />
<line x1="353.6" y1="128.3" x2="355.4" y2="128.3" stroke="#a8a8a8" stroke-width="0.5" />
<line x1="353.6" y1="143.5" x2="355.4" y2="143.5" stroke="#a8a8a8" stroke-width="0.5" />
<line x1="353.6" y1="158.7" x2="355.4" y2="158.7" stroke="#a8a8a8" stroke-width="0.5" />
<line x1="392" y1="175" x2="391.2" y2="176.8" stroke="#8a8a8a" stroke-width="0.5" />
<line x1="428.3" y1="189.3" x2="427.5" y2="191.1" stroke="#8a8a8a" stroke-width="0.5" />
<text x="351.3" y="100.2" font-size="8" font-family="'Liberation Sans', sans-serif" fill="#262626" stroke="#262626" stroke-width="0.15" text-anchor="end" textLength="12.01" lengthAdjust="spacingAndGlyphs" >0.4</text>
<text x="351.3" y="115.9" font-size="8" font-family="'Liberation Sans', sans-serif" fill="#262626" stroke="#262626" stroke-width="0.15" text-anchor="end" textLength="12.01" lengthAdjust="spacingAndGlyphs" >0.3</text>
<text x="351.3" y="130.9" font-size="8" font-family="'Liberation Sans', sans-serif" fill="#262626" stroke="#262626" stroke-width="0.15" text-anchor="end" textLength="12.01" lengthAdjust="spacingAndGlyphs" >0.2</text>
<text x="351.3" y="145.8" font-size="8" font-family="'Liberation Sans', sans-serif" fill="#262626" stroke="#262626" stroke-width="0.15" text-anchor="end" textLength="12.01" lengthAdjust="spacingAndGlyphs" >0.1</text>
<text x="351.3" y="161.5" font-size="8" font-family="'Liberation Sans', sans-serif" fill="#262626" stroke="#262626" stroke-width="0.15" text-anchor="end" textLength="4.8" lengthAdjust="spacingAndGlyphs" >0</text>
<text x="347" y="171.1" font-size="8" font-family="'Liberation Sans', sans-serif" fill="#262626" stroke="#262626" stroke-width="0.15" text-anchor="middle" textLength="12.01" lengthAdjust="spacingAndGlyphs" >0.5</text>
<text x="387.4" y="185.3" font-size="8" font-family="'Liberation Sans', sans-serif" fill="#262626" stroke="#262626" stroke-width="0.15" text-anchor="middle" textLength="4.8" lengthAdjust="spacingAndGlyphs" >0</text>
<text x="419.6" y="200.3" font-size="8" font-family="'Liberation Sans', sans-serif" fill="#262626" stroke="#262626" stroke-width="0.15" text-anchor="middle" textLength="14.89" lengthAdjust="spacingAndGlyphs" >-0.5</text>
<text x="453.8" y="199.6" font-size="8" font-family="'Liberation Sans', sans-serif" fill="#262626" stroke="#262626" stroke-width="0.15" text-anchor="middle" textLength="4.8" lengthAdjust="spacingAndGlyphs" >0</text>
<text x="469.4" y="183.4" font-size="8" font-family="'Liberation Sans', sans-serif" fill="#262626" stroke="#262626" stroke-width="0.15" text-anchor="middle" textLength="14.89" lengthAdjust="spacingAndGlyphs" >-0.2</text>
<text x="482.6" y="167.2" font-size="8" font-family="'Liberation Sans', sans-serif" fill="#262626" stroke="#262626" stroke-width="0.15" text-anchor="middle" textLength="14.89" lengthAdjust="spacingAndGlyphs" >-0.4</text>
<text x="493.1" y="150.5" font-size="8" font-family="'Liberation Sans', sans-serif" fill="#262626" stroke="#262626" stroke-width="0.15" text-anchor="middle" textLength="14.89" lengthAdjust="spacingAndGlyphs" >-0.6</text>
<text x="368" y="124.5" font-size="8.6" font-family="'Liberation Serif', serif" fill="#404040" stroke="#404040" stroke-width="0.03" text-anchor="middle" transform="rotate(-90 368 124.5)" >z [<tspan font-style="italic">m</tspan>]</text>
<text x="376.7" y="204.3" font-size="8.5" font-family="'Liberation Serif', serif" fill="#404040" stroke="#404040" stroke-width="0.03" text-anchor="start" textLength="20.3" lengthAdjust="spacingAndGlyphs" >x [<tspan font-style="italic">m</tspan>]</text>
<text x="462.3" y="155.8" font-size="8.5" font-family="'Liberation Serif', serif" fill="#404040" stroke="#404040" stroke-width="0.03" text-anchor="start" textLength="20.2" lengthAdjust="spacingAndGlyphs" >y [<tspan font-style="italic">m</tspan>]</text>
<circle cx="433.8" cy="70.6" r="3" fill="#ff0000"/>
<circle cx="436" cy="71.59" r="3" fill="#ff0000"/>
<circle cx="438.2" cy="72.58" r="3" fill="#ff0000"/>
<circle cx="440.3" cy="73.52" r="3" fill="#ff0000"/>
<circle cx="445.9" cy="125.3" r="3" fill="#ff0000"/>
<circle cx="441.9" cy="130.9" r="3" fill="#ff0000"/>
<circle cx="437" cy="137.4" r="3" fill="#ff0000"/>
<path d="M398.3,105.8 C398.92,105.6 400.88,104.87 402,104.6 C403.12,104.33 403.5,104.37 405,104.2 C406.5,104.03 409.42,103.55 411,103.6 C412.58,103.65 413.43,104.07 414.5,104.5 C415.57,104.93 416.57,106.08 417.4,106.2 C418.23,106.32 418.87,105.82 419.5,105.2 C420.13,104.58 420.62,103.78 421.2,102.5 C421.78,101.22 422.45,99.58 423,97.5 C423.55,95.42 424,92.38 424.5,90 C425,87.62 425.25,85.7 426,83.2 C426.75,80.7 428,77.03 429,75 C430,72.97 431.5,71.67 432,71" fill="none" stroke="#b13dff" stroke-width="1.3" stroke-linejoin="round" stroke-linecap="round" />
<path d="M439.6,75 C439.63,76.17 439.75,79.17 439.8,82 C439.85,84.83 439.83,88.33 439.9,92 C439.97,95.67 440.05,100.42 440.2,104 C440.35,107.58 440.5,111.23 440.8,113.5 C441.1,115.77 441.33,117.02 442,117.6 C442.67,118.18 443.88,116.6 444.8,117 C445.72,117.4 446.7,119.07 447.5,120 C448.3,120.93 449.25,122.17 449.6,122.6" fill="none" stroke="#b13dff" stroke-width="1.3" stroke-linejoin="round" stroke-linecap="round" />
<path d="M449.6,122.6 L445.9,125.3 L441.9,130.9 L437,137.4" fill="none" stroke="#b13dff" stroke-width="1.3" stroke-linejoin="round" stroke-linecap="round" />
<path d="M437,137.4 C437.27,138.1 437.52,140.23 438.6,141.6 C439.68,142.97 442.3,144.28 443.5,145.6 C444.7,146.92 445.38,147.77 445.8,149.5 C446.22,151.23 446,153.83 446,156 C446,158.17 445.83,161.42 445.8,162.5" fill="none" stroke="#b13dff" stroke-width="1.3" stroke-linejoin="round" stroke-linecap="round" />
<path d="M421.6,105.5 L436,113.2" fill="none" stroke="#a0a0ff" stroke-width="1.1" stroke-linejoin="round" stroke-linecap="round" stroke-dasharray="4.8 4.6"/>
<path d="M448.4,134.4 L446.4,139.6" fill="none" stroke="#a8a8ff" stroke-width="1" stroke-linejoin="round" stroke-linecap="round" />
<path d="M445.6,147.3 L445.6,152" fill="none" stroke="#a8a8ff" stroke-width="1" stroke-linejoin="round" stroke-linecap="round" />
<circle cx="398.8" cy="106.2" r="3" fill="none" stroke="#77ac30" stroke-width="2.35"/>
<path d="M443.6,161.3 L447.6,165.3 M443.6,165.3 L447.6,161.3" stroke="#ff0000" stroke-width="1.8" stroke-linecap="butt"/>
<line x1="514.6" y1="18" x2="514.6" y2="74.5" stroke="#aaaaaa" stroke-width="0.6" />
<line x1="514" y1="18" x2="590.3" y2="18" stroke="#8c8c8c" stroke-width="1.2" stroke-dasharray="4 3.5"/>
<line x1="514" y1="19.3" x2="590.3" y2="19.3" stroke="#ff00ff" stroke-width="1.2" stroke-dasharray="4 3.5"/>
<line x1="514.6" y1="74.6" x2="590.3" y2="74.6" stroke="#c0c0c0" stroke-width="0.6" />
<line x1="514" y1="74.9" x2="590.3" y2="74.9" stroke="#8c8c8c" stroke-width="1.2" stroke-dasharray="4 3.5"/>
<line x1="514" y1="73.6" x2="590.3" y2="73.6" stroke="#ff00ff" stroke-width="1.2" stroke-dasharray="4 3.5"/>
<text x="511.3" y="25.8" font-size="7.5" font-family="'Liberation Sans', sans-serif" fill="#262626" stroke="#262626" stroke-width="0.15" text-anchor="end" textLength="4.5" lengthAdjust="spacingAndGlyphs" >0</text>
<line x1="514.6" y1="23.1" x2="515.8" y2="23.1" stroke="#262626" stroke-width="0.5" />
<text x="511.3" y="39.26" font-size="7.5" font-family="'Liberation Sans', sans-serif" fill="#262626" stroke="#262626" stroke-width="0.15" text-anchor="end" textLength="13.96" lengthAdjust="spacingAndGlyphs" >-0.2</text>
<line x1="514.6" y1="36.56" x2="515.8" y2="36.56" stroke="#262626" stroke-width="0.5" />
<text x="511.3" y="52.72" font-size="7.5" font-family="'Liberation Sans', sans-serif" fill="#262626" stroke="#262626" stroke-width="0.15" text-anchor="end" textLength="13.96" lengthAdjust="spacingAndGlyphs" >-0.4</text>
<line x1="514.6" y1="50.02" x2="515.8" y2="50.02" stroke="#262626" stroke-width="0.5" />
<text x="511.3" y="66.18" font-size="7.5" font-family="'Liberation Sans', sans-serif" fill="#262626" stroke="#262626" stroke-width="0.15" text-anchor="end" textLength="13.96" lengthAdjust="spacingAndGlyphs" >-0.6</text>
<line x1="514.6" y1="63.48" x2="515.8" y2="63.48" stroke="#262626" stroke-width="0.5" />
<text x="495" y="46" font-size="8" font-family="'Liberation Serif', serif" fill="#404040" stroke="#404040" stroke-width="0.03" text-anchor="middle" transform="rotate(-90 495 46)" >pos [<tspan font-style="italic">m</tspan>]</text>
<path d="M513.7,61.1 C514.75,61.13 517.62,61.23 520,61.3 C522.38,61.37 525.5,61.48 528,61.5 C530.5,61.52 533.17,61.48 535,61.4 C536.83,61.32 537.83,61.18 539,61 C540.17,60.82 541,60.65 542,60.3 C543,59.95 543.73,59.7 545,58.9 C546.27,58.1 548.08,56.6 549.6,55.5 C551.12,54.4 552.58,53.43 554.1,52.3 C555.62,51.17 557.52,49.75 558.7,48.7 C559.88,47.65 560.43,47.03 561.2,46 C561.97,44.97 562.58,43.92 563.3,42.5 C564.02,41.08 564.73,39.08 565.5,37.5 C566.27,35.92 567,34.32 567.9,33 C568.8,31.68 569.73,30.6 570.9,29.6 C572.07,28.6 573.57,27.67 574.9,27 C576.23,26.33 577.42,25.93 578.9,25.6 C580.38,25.27 581.95,25.03 583.8,25 C585.65,24.97 588.97,25.33 590,25.4" fill="none" stroke="#0000ff" stroke-width="1.3" stroke-linejoin="round" stroke-linecap="round" />
<path d="M513.7,61.1 C514.75,61.13 517.62,61.23 520,61.3 C522.38,61.37 525.5,61.48 528,61.5 C530.5,61.52 533.17,61.48 535,61.4 C536.83,61.32 537.83,61.18 539,61 C540.17,60.82 541,60.65 542,60.3 C543,59.95 543.73,59.7 545,58.9 C546.27,58.1 548.08,56.6 549.6,55.5 C551.12,54.4 552.58,53.43 554.1,52.3 C555.62,51.17 557.52,49.75 558.7,48.7 C559.88,47.65 560.43,47.03 561.2,46 C561.97,44.97 562.58,43.92 563.3,42.5 C564.02,41.08 564.73,39.08 565.5,37.5 C566.27,35.92 567,34.32 567.9,33 C568.8,31.68 569.73,30.6 570.9,29.6 C572.07,28.6 573.57,27.67 574.9,27 C576.23,26.33 577.42,25.93 578.9,25.6 C580.38,25.27 581.95,25.03 583.8,25 C585.65,24.97 588.97,25.33 590,25.4" fill="none" stroke="#b13dff" stroke-width="1" stroke-linejoin="round" stroke-linecap="round" />
<circle cx="541.6" cy="60.9" r="2.4" fill="#ff0000"/>
<circle cx="543.9" cy="60.9" r="2.4" fill="#ff0000"/>
<circle cx="563.5" cy="43.9" r="2.4" fill="#ff0000"/>
<circle cx="564.9" cy="38.5" r="2.4" fill="#ff0000"/>
<circle cx="567.5" cy="33.3" r="2.4" fill="#ff0000"/>
<path d="M588.3,23.6 L592.3,27.6 M588.3,27.6 L592.3,23.6" stroke="#ff0000" stroke-width="1.8" stroke-linecap="butt"/>
<circle cx="514.1" cy="61.3" r="2.2" fill="none" stroke="#77ac30" stroke-width="2"/>
<line x1="514.6" y1="82.5" x2="514.6" y2="139.5" stroke="#aaaaaa" stroke-width="0.6" />
<line x1="514" y1="83.1" x2="590.3" y2="83.1" stroke="#8c8c8c" stroke-width="1.2" stroke-dasharray="4 3.5"/>
<line x1="514" y1="86.6" x2="590.3" y2="86.6" stroke="#ff00ff" stroke-width="1.2" stroke-dasharray="4 3.5"/>
<line x1="514" y1="135.4" x2="590.3" y2="135.4" stroke="#ff00ff" stroke-width="1.2" stroke-dasharray="4 3.5"/>
<line x1="514.6" y1="139.2" x2="590.3" y2="139.2" stroke="#c0c0c0" stroke-width="0.6" />
<line x1="514" y1="139.4" x2="590.3" y2="139.4" stroke="#8c8c8c" stroke-width="1.2" stroke-dasharray="4 3.5"/>
<text x="511.3" y="97.3" font-size="7.5" font-family="'Liberation Sans', sans-serif" fill="#262626" stroke="#262626" stroke-width="0.15" text-anchor="end" textLength="11.26" lengthAdjust="spacingAndGlyphs" >0.2</text>
<line x1="514.6" y1="94.6" x2="515.8" y2="94.6" stroke="#262626" stroke-width="0.5" />
<text x="511.3" y="113.9" font-size="7.5" font-family="'Liberation Sans', sans-serif" fill="#262626" stroke="#262626" stroke-width="0.15" text-anchor="end" textLength="4.5" lengthAdjust="spacingAndGlyphs" >0</text>
<line x1="514.6" y1="111.2" x2="515.8" y2="111.2" stroke="#262626" stroke-width="0.5" />
<text x="511.3" y="130.5" font-size="7.5" font-family="'Liberation Sans', sans-serif" fill="#262626" stroke="#262626" stroke-width="0.15" text-anchor="end" textLength="13.96" lengthAdjust="spacingAndGlyphs" >-0.2</text>
<line x1="514.6" y1="127.8" x2="515.8" y2="127.8" stroke="#262626" stroke-width="0.5" />
<text x="499" y="112.5" font-size="8" font-family="'Liberation Serif', serif" fill="#404040" stroke="#404040" stroke-width="0.03" text-anchor="middle" transform="rotate(-90 499 112.5)" >vel [<tspan font-style="italic">m/s</tspan>]</text>
<path d="M517,111.9 C517.83,111.93 520.17,112.1 522,112.1 C523.83,112.1 526,111.98 528,111.9 C530,111.82 532.33,111.75 534,111.6 C535.67,111.45 537.33,111.1 538,111" fill="none" stroke="#0000ff" stroke-width="1.1" stroke-linejoin="round" stroke-linecap="round" />
<path d="M542.5,108.6 L546.5,107.6" fill="none" stroke="#0000ff" stroke-width="1.2" stroke-linejoin="round" stroke-linecap="round" />
<path d="M552,105.6 L554.5,105.2" fill="none" stroke="#0000ff" stroke-width="1.2" stroke-linejoin="round" stroke-linecap="round" />
<path d="M559,101.6 L562,100.4" fill="none" stroke="#0000ff" stroke-width="1.2" stroke-linejoin="round" stroke-linecap="round" />
<path d="M564,99.8 L568.6,99.3" fill="none" stroke="#0000ff" stroke-width="1.2" stroke-linejoin="round" stroke-linecap="round" />
<path d="M515,111.2 C515.62,111.32 517.45,111.95 518.7,111.9 C519.95,111.85 521.25,110.93 522.5,110.9 C523.75,110.87 524.95,111.7 526.2,111.7 C527.45,111.7 528.53,111.03 530,110.9 C531.47,110.77 533.68,111.18 535,110.9 C536.32,110.62 537.08,109.12 537.9,109.2 C538.72,109.28 539.15,110.98 539.9,111.4 C540.65,111.82 541.57,112.37 542.4,111.7 C543.23,111.03 544.15,108.95 544.9,107.4 C545.65,105.85 546.27,102.32 546.9,102.4 C547.53,102.48 548,107.48 548.7,107.9 C549.4,108.32 550.28,105.32 551.1,104.9 C551.92,104.48 552.77,105.23 553.6,105.4 C554.43,105.57 555.27,105.98 556.1,105.9 C556.93,105.82 557.77,105.82 558.6,104.9 C559.43,103.98 560.35,102.88 561.1,100.4 C561.85,97.92 562.47,92.23 563.1,90 C563.73,87.77 564.27,86.8 564.9,87 C565.53,87.2 566.28,88.42 566.9,91.2 C567.52,93.98 568.03,100.58 568.6,103.7 C569.17,106.82 569.68,109.82 570.3,109.9 C570.92,109.98 571.63,105.23 572.3,104.2 C572.97,103.17 573.55,103.17 574.3,103.7 C575.05,104.23 575.67,106.28 576.8,107.4 C577.93,108.52 579.77,109.73 581.1,110.4 C582.43,111.07 583.27,111.23 584.8,111.4 C586.33,111.57 589.38,111.4 590.3,111.4" fill="none" stroke="#b13dff" stroke-width="1.3" stroke-linejoin="round" stroke-linecap="round" />
<path d="M589.3,109.4 L593.3,113.4 M589.3,113.4 L593.3,109.4" stroke="#ff0000" stroke-width="1.8" stroke-linecap="butt"/>
<line x1="514.6" y1="145" x2="514.6" y2="201.3" stroke="#aaaaaa" stroke-width="0.6" />
<line x1="514" y1="145.3" x2="590.3" y2="145.3" stroke="#8c8c8c" stroke-width="1.2" stroke-dasharray="4 3.5"/>
<line x1="514" y1="159.3" x2="590.3" y2="159.3" stroke="#ff00ff" stroke-width="1.2" stroke-dasharray="4 3.5"/>
<line x1="514" y1="187.6" x2="590.3" y2="187.6" stroke="#ff00ff" stroke-width="1.2" stroke-dasharray="4 3.5"/>
<line x1="514.6" y1="201.3" x2="590.3" y2="201.3" stroke="#aaaaaa" stroke-width="0.7" />
<line x1="514" y1="202" x2="590.3" y2="202" stroke="#c8c8c8" stroke-width="1.2" stroke-dasharray="4 3.5"/>
<text x="511.3" y="161.55" font-size="7.5" font-family="'Liberation Sans', sans-serif" fill="#262626" stroke="#262626" stroke-width="0.15" text-anchor="end" textLength="11.26" lengthAdjust="spacingAndGlyphs" >0.5</text>
<line x1="514.6" y1="158.85" x2="515.8" y2="158.85" stroke="#262626" stroke-width="0.5" />
<text x="511.3" y="176.3" font-size="7.5" font-family="'Liberation Sans', sans-serif" fill="#262626" stroke="#262626" stroke-width="0.15" text-anchor="end" textLength="4.5" lengthAdjust="spacingAndGlyphs" >0</text>
<line x1="514.6" y1="173.6" x2="515.8" y2="173.6" stroke="#262626" stroke-width="0.5" />
<text x="511.3" y="191.05" font-size="7.5" font-family="'Liberation Sans', sans-serif" fill="#262626" stroke="#262626" stroke-width="0.15" text-anchor="end" textLength="13.96" lengthAdjust="spacingAndGlyphs" >-0.5</text>
<line x1="514.6" y1="188.35" x2="515.8" y2="188.35" stroke="#262626" stroke-width="0.5" />
<text x="497.5" y="176" font-size="8" font-family="'Liberation Serif', serif" fill="#404040" stroke="#404040" stroke-width="0.03" text-anchor="middle" transform="rotate(-90 497.5 176)" >accel [<tspan font-style="italic">m/s</tspan><tspan font-size="5" dy="-3">2</tspan><tspan dy="3">]</tspan></text>
<path d="M517,173.6 L530,173.2 L545,172.8 L558,172 L566,170 L575,174 L588,173.6" fill="none" stroke="#0000ff" stroke-width="1.1" stroke-linejoin="round" stroke-linecap="round" stroke-dasharray="2.5 2"/>
<path d="M515.4,173.7 C516.12,173.81 519.91,174.86 520.8,174.5 C521.69,174.14 521.67,170.93 522.1,171 C522.53,171.07 523.45,174.75 524,175 C524.55,175.25 525.19,173.07 526.2,172.9 C527.21,172.73 530.35,173.85 531.6,173.7 C532.85,173.55 534.88,172.33 535.6,171.8 C536.32,171.27 536.45,168.73 537,169.7 C537.55,170.67 538.98,178.74 539.7,179.1 C540.42,179.46 541.68,174.92 542.4,172.4 C543.12,169.88 544.57,160.75 545.1,160.2 C545.63,159.65 546.04,165.06 546.4,168.3 C546.76,171.54 547.33,184.86 547.8,184.5 C548.27,184.14 549.37,166.49 549.9,165.6 C550.43,164.71 551.19,176.89 551.8,177.8 C552.41,178.71 553.78,172.76 554.5,172.4 C555.22,172.04 556.48,175.46 557.2,175.1 C557.92,174.74 559.35,171.5 559.9,169.7 C560.45,167.9 560.75,163.04 561.3,161.6 C561.85,160.16 563.47,157.82 564,158.9 C564.53,159.98 564.94,165.93 565.3,169.7 C565.66,173.47 566.15,184.87 566.7,187.2 C567.25,189.53 568.87,188.81 569.4,187.2 C569.93,185.59 570.27,178.34 570.7,175.1 C571.13,171.86 572.05,162.73 572.6,162.9 C573.15,163.07 574.15,174.77 574.8,176.4 C575.45,178.03 576.61,175.46 577.5,175.1 C578.39,174.74 580.42,173.99 581.5,173.7 C582.58,173.41 584.52,172.9 585.6,172.9 C586.68,172.9 589.07,173.59 589.6,173.7" fill="none" stroke="#b13dff" stroke-width="1.2" stroke-linejoin="round" stroke-linecap="round" />
<path d="M589.7,171.5 L593.7,175.5 M589.7,175.5 L593.7,171.5" stroke="#ff0000" stroke-width="1.8" stroke-linecap="butt"/>
<text x="515.5" y="210.6" font-size="7.5" font-family="'Liberation Sans', sans-serif" fill="#262626" stroke="#262626" stroke-width="0.15" text-anchor="middle" textLength="4.5" lengthAdjust="spacingAndGlyphs" >0</text>
<text x="547.3" y="210.6" font-size="7.5" font-family="'Liberation Sans', sans-serif" fill="#262626" stroke="#262626" stroke-width="0.15" text-anchor="middle" textLength="4.5" lengthAdjust="spacingAndGlyphs" >5</text>
<text x="579" y="210.6" font-size="7.5" font-family="'Liberation Sans', sans-serif" fill="#262626" stroke="#262626" stroke-width="0.15" text-anchor="middle" textLength="9.01" lengthAdjust="spacingAndGlyphs" >10</text>
<text x="540.9" y="219.8" font-size="8.5" font-family="'Liberation Serif', serif" fill="#404040" stroke="#404040" stroke-width="0.03" text-anchor="start" textLength="24.3" lengthAdjust="spacingAndGlyphs" >time [<tspan font-style="italic">s</tspan>]</text>
<line x1="605.3" y1="16.5" x2="605.3" y2="73.8" stroke="#aaaaaa" stroke-width="0.6" />
<line x1="605.3" y1="73.8" x2="682" y2="73.8" stroke="#a0a0a0" stroke-width="0.8" />
<line x1="612.77" y1="72.5" x2="612.77" y2="73.8" stroke="#a0a0a0" stroke-width="0.5" />
<line x1="620.24" y1="72.5" x2="620.24" y2="73.8" stroke="#a0a0a0" stroke-width="0.5" />
<line x1="627.71" y1="72.5" x2="627.71" y2="73.8" stroke="#a0a0a0" stroke-width="0.5" />
<line x1="635.18" y1="72.5" x2="635.18" y2="73.8" stroke="#a0a0a0" stroke-width="0.5" />
<line x1="642.65" y1="72.5" x2="642.65" y2="73.8" stroke="#a0a0a0" stroke-width="0.5" />
<line x1="650.12" y1="72.5" x2="650.12" y2="73.8" stroke="#a0a0a0" stroke-width="0.5" />
<line x1="657.59" y1="72.5" x2="657.59" y2="73.8" stroke="#a0a0a0" stroke-width="0.5" />
<line x1="665.06" y1="72.5" x2="665.06" y2="73.8" stroke="#a0a0a0" stroke-width="0.5" />
<line x1="672.53" y1="72.5" x2="672.53" y2="73.8" stroke="#a0a0a0" stroke-width="0.5" />
<line x1="680" y1="72.5" x2="680" y2="73.8" stroke="#a0a0a0" stroke-width="0.5" />
<line x1="604.7" y1="16.7" x2="682" y2="16.7" stroke="#8c8c8c" stroke-width="1.2" stroke-dasharray="4 3.5"/>
<line x1="604.7" y1="19.3" x2="682" y2="19.3" stroke="#ff00ff" stroke-width="1.2" stroke-dasharray="4 3.5"/>
<line x1="604.7" y1="71.2" x2="682" y2="71.2" stroke="#ff00ff" stroke-width="1.2" stroke-dasharray="4 3.5"/>
<line x1="604.7" y1="73.6" x2="682" y2="73.6" stroke="#8c8c8c" stroke-width="0.9" stroke-dasharray="4 3.5"/>
<text x="603.6" y="28.9" font-size="8" font-family="'Liberation Sans', sans-serif" fill="#262626" stroke="#262626" stroke-width="0.15" text-anchor="end" textLength="12.01" lengthAdjust="spacingAndGlyphs" >0.4</text>
<line x1="605.3" y1="26" x2="606.5" y2="26" stroke="#262626" stroke-width="0.5" />
<text x="603.6" y="52.6" font-size="8" font-family="'Liberation Sans', sans-serif" fill="#262626" stroke="#262626" stroke-width="0.15" text-anchor="end" textLength="12.01" lengthAdjust="spacingAndGlyphs" >0.2</text>
<line x1="605.3" y1="49.7" x2="606.5" y2="49.7" stroke="#262626" stroke-width="0.5" />
<text x="603.6" y="76.3" font-size="8" font-family="'Liberation Sans', sans-serif" fill="#262626" stroke="#262626" stroke-width="0.15" text-anchor="end" textLength="4.8" lengthAdjust="spacingAndGlyphs" >0</text>
<line x1="605.3" y1="73.4" x2="606.5" y2="73.4" stroke="#262626" stroke-width="0.5" />
<path d="M626,61.3 L642.5,55.2" fill="none" stroke="#0000ff" stroke-width="1.2" stroke-linejoin="round" stroke-linecap="round" stroke-dasharray="3 2.5"/>
<path d="M605.3,69 C606.71,68.4 613.78,65.39 615.9,64.5 C618.02,63.61 619.85,62.73 621.2,62.3 C622.55,61.87 624.93,63.49 626,61.3 C627.07,59.11 628.49,50.07 629.2,45.9 C629.91,41.73 630.59,32.2 631.3,30 C632.01,27.8 633.66,29.27 634.5,29.4 C635.34,29.53 636.87,29.12 637.6,31 C638.33,32.88 639.43,40.13 640,43.5 C640.57,46.87 641.3,54.74 641.9,56.3 C642.5,57.86 643.71,55.83 644.5,55.2 C645.29,54.57 646.65,52.27 647.8,51.6 C648.95,50.93 651.69,50.41 653.1,50.2 C654.51,49.99 656.99,49.97 658.4,50 C659.81,50.03 662.1,50.16 663.7,50.4 C665.3,50.64 668.63,51.35 670.4,51.8 C672.17,52.25 675.41,53.35 677,53.8 C678.59,54.25 681.59,55.01 682.3,55.2" fill="none" stroke="#b13dff" stroke-width="1.3" stroke-linejoin="round" stroke-linecap="round" />
<circle cx="632.5" cy="29.4" r="2.5" fill="#ff0000"/>
<circle cx="634.5" cy="29.4" r="2.5" fill="#ff0000"/>
<circle cx="636" cy="29.4" r="2.5" fill="#ff0000"/>
<circle cx="655.6" cy="47.5" r="2.6" fill="#ff0000"/>
<circle cx="657.6" cy="47.5" r="2.6" fill="#ff0000"/>
<circle cx="659.4" cy="47.5" r="2.6" fill="#ff0000"/>
<path d="M680.3,53.2 L684.3,57.2 M680.3,57.2 L684.3,53.2" stroke="#ff0000" stroke-width="1.8" stroke-linecap="butt"/>
<circle cx="605.4" cy="69" r="2.2" fill="none" stroke="#77ac30" stroke-width="2"/>
<line x1="605.3" y1="81" x2="605.3" y2="138.5" stroke="#aaaaaa" stroke-width="0.6" />
<line x1="605.3" y1="138.5" x2="682" y2="138.5" stroke="#a0a0a0" stroke-width="0.8" />
<line x1="612.77" y1="137.2" x2="612.77" y2="138.5" stroke="#a0a0a0" stroke-width="0.5" />
<line x1="620.24" y1="137.2" x2="620.24" y2="138.5" stroke="#a0a0a0" stroke-width="0.5" />
<line x1="627.71" y1="137.2" x2="627.71" y2="138.5" stroke="#a0a0a0" stroke-width="0.5" />
<line x1="635.18" y1="137.2" x2="635.18" y2="138.5" stroke="#a0a0a0" stroke-width="0.5" />
<line x1="642.65" y1="137.2" x2="642.65" y2="138.5" stroke="#a0a0a0" stroke-width="0.5" />
<line x1="650.12" y1="137.2" x2="650.12" y2="138.5" stroke="#a0a0a0" stroke-width="0.5" />
<line x1="657.59" y1="137.2" x2="657.59" y2="138.5" stroke="#a0a0a0" stroke-width="0.5" />
<line x1="665.06" y1="137.2" x2="665.06" y2="138.5" stroke="#a0a0a0" stroke-width="0.5" />
<line x1="672.53" y1="137.2" x2="672.53" y2="138.5" stroke="#a0a0a0" stroke-width="0.5" />
<line x1="680" y1="137.2" x2="680" y2="138.5" stroke="#a0a0a0" stroke-width="0.5" />
<line x1="604.7" y1="81.7" x2="682" y2="81.7" stroke="#8c8c8c" stroke-width="1.2" stroke-dasharray="4 3.5"/>
<line x1="604.7" y1="85.6" x2="682" y2="85.6" stroke="#ff00ff" stroke-width="1.2" stroke-dasharray="4 3.5"/>
<line x1="604.7" y1="134.5" x2="682" y2="134.5" stroke="#ff00ff" stroke-width="1.2" stroke-dasharray="4 3.5"/>
<line x1="604.7" y1="138.3" x2="682" y2="138.3" stroke="#8c8c8c" stroke-width="0.9" stroke-dasharray="4 3.5"/>
<text x="602.2" y="96.7" font-size="8" font-family="'Liberation Sans', sans-serif" fill="#262626" stroke="#262626" stroke-width="0.15" text-anchor="end" textLength="12.01" lengthAdjust="spacingAndGlyphs" >0.2</text>
<text x="602.2" y="112.7" font-size="8" font-family="'Liberation Sans', sans-serif" fill="#262626" stroke="#262626" stroke-width="0.15" text-anchor="end" textLength="4.8" lengthAdjust="spacingAndGlyphs" >0</text>
<text x="602.2" y="128.7" font-size="8" font-family="'Liberation Sans', sans-serif" fill="#262626" stroke="#262626" stroke-width="0.15" text-anchor="end" textLength="12.01" lengthAdjust="spacingAndGlyphs" >0.2</text>
<path d="M621,109.8 L632,109 L645,108 L652,109" fill="none" stroke="#0000ff" stroke-width="1.2" stroke-linejoin="round" stroke-linecap="round" stroke-dasharray="3 2.5"/>
<path d="M605.1,109.8 C605.83,109.52 609.07,107.98 610.6,107.7 C612.13,107.42 615.19,107.42 616.6,107.7 C618.01,107.98 620.39,109.4 621.2,109.8 C622.01,110.2 622.22,111.71 622.7,110.7 C623.18,109.69 624.08,105.55 624.8,102.2 C625.52,98.85 627.38,87.21 628.1,85.6 C628.82,83.99 629.51,86.67 630.2,90.1 C630.89,93.53 632.57,106.46 633.3,111.3 C634.03,116.14 635.1,123.37 635.7,126.4 C636.3,129.43 637.24,134.4 637.8,134 C638.36,133.6 639.3,126.83 639.9,123.4 C640.5,119.97 641.65,111.13 642.3,108.3 C642.95,105.47 644.19,102.4 644.8,102.2 C645.41,102 646.22,106.07 646.9,106.8 C647.58,107.53 649.1,107.98 649.9,107.7 C650.7,107.42 652.21,104.42 652.9,104.7 C653.59,104.98 654.49,109.24 655.1,109.8 C655.71,110.36 656.86,108.3 657.5,108.9 C658.14,109.5 659.18,114.3 659.9,114.3 C660.62,114.3 662.02,109.3 662.9,108.9 C663.78,108.5 665.41,111.06 666.5,111.3 C667.59,111.54 669.69,110.7 671.1,110.7 C672.51,110.7 675.77,111.42 677.1,111.3 C678.43,111.18 680.57,110 681.1,109.8" fill="none" stroke="#b13dff" stroke-width="1.3" stroke-linejoin="round" stroke-linecap="round" />
<path d="M679.5,107.8 L683.5,111.8 M679.5,111.8 L683.5,107.8" stroke="#ff0000" stroke-width="1.8" stroke-linecap="butt"/>
<line x1="605.3" y1="145.5" x2="605.3" y2="203.2" stroke="#aaaaaa" stroke-width="0.6" />
<line x1="605.3" y1="203.2" x2="682" y2="203.2" stroke="#a0a0a0" stroke-width="0.8" />
<line x1="612.77" y1="201.9" x2="612.77" y2="203.2" stroke="#a0a0a0" stroke-width="0.5" />
<line x1="620.24" y1="201.9" x2="620.24" y2="203.2" stroke="#a0a0a0" stroke-width="0.5" />
<line x1="627.71" y1="201.9" x2="627.71" y2="203.2" stroke="#a0a0a0" stroke-width="0.5" />
<line x1="635.18" y1="201.9" x2="635.18" y2="203.2" stroke="#a0a0a0" stroke-width="0.5" />
<line x1="642.65" y1="201.9" x2="642.65" y2="203.2" stroke="#a0a0a0" stroke-width="0.5" />
<line x1="650.12" y1="201.9" x2="650.12" y2="203.2" stroke="#a0a0a0" stroke-width="0.5" />
<line x1="657.59" y1="201.9" x2="657.59" y2="203.2" stroke="#a0a0a0" stroke-width="0.5" />
<line x1="665.06" y1="201.9" x2="665.06" y2="203.2" stroke="#a0a0a0" stroke-width="0.5" />
<line x1="672.53" y1="201.9" x2="672.53" y2="203.2" stroke="#a0a0a0" stroke-width="0.5" />
<line x1="680" y1="201.9" x2="680" y2="203.2" stroke="#a0a0a0" stroke-width="0.5" />
<line x1="604.7" y1="146.2" x2="682" y2="146.2" stroke="#8c8c8c" stroke-width="1.2" stroke-dasharray="4 3.5"/>
<line x1="604.7" y1="160.3" x2="682" y2="160.3" stroke="#ff00ff" stroke-width="1.2" stroke-dasharray="4 3.5"/>
<line x1="604.7" y1="189.3" x2="682" y2="189.3" stroke="#ff00ff" stroke-width="1.2" stroke-dasharray="4 3.5"/>
<line x1="604.7" y1="203.2" x2="682" y2="203.2" stroke="#8c8c8c" stroke-width="1.2" stroke-dasharray="4 3.5"/>
<text x="601.6" y="163" font-size="8" font-family="'Liberation Sans', sans-serif" fill="#262626" stroke="#262626" stroke-width="0.15" text-anchor="end" textLength="12.01" lengthAdjust="spacingAndGlyphs" >0.5</text>
<text x="601.6" y="177.5" font-size="8" font-family="'Liberation Sans', sans-serif" fill="#262626" stroke="#262626" stroke-width="0.15" text-anchor="end" textLength="4.8" lengthAdjust="spacingAndGlyphs" >0</text>
<text x="601.6" y="192" font-size="8" font-family="'Liberation Sans', sans-serif" fill="#262626" stroke="#262626" stroke-width="0.15" text-anchor="end" textLength="14.89" lengthAdjust="spacingAndGlyphs" >-0.5</text>
<path d="M618,174.5 L640,174.3 L655,174 L670,174.5" fill="none" stroke="#0000ff" stroke-width="1.2" stroke-linejoin="round" stroke-linecap="round" stroke-dasharray="3 2.5"/>
<path d="M604.4,174.8 C604.97,174.72 607.54,174.12 608.7,174.2 C609.86,174.28 611.94,175.12 613.1,175.4 C614.26,175.68 616.52,175.79 617.4,176.3 C618.28,176.81 619.11,179.79 619.7,179.2 C620.29,178.61 621.33,174.34 621.8,171.9 C622.27,169.46 622.71,162.45 623.2,160.9 C623.69,159.35 624.91,159.22 625.5,160.3 C626.09,161.38 627.13,165.21 627.6,169 C628.07,172.79 627.84,186.07 629,188.7 C630.16,191.33 635.14,191.33 636.3,188.7 C637.46,186.07 637.31,172.79 637.7,169 C638.09,165.21 638.43,161.46 639.2,160.3 C639.97,159.14 642.73,158.75 643.5,160.3 C644.27,161.85 644.61,169.38 645,171.9 C645.39,174.42 645.91,179.2 646.4,179.2 C646.89,179.2 648.11,173.45 648.7,171.9 C649.29,170.35 650.25,166.44 650.8,167.6 C651.35,168.76 652.31,180.41 652.8,180.6 C653.29,180.79 654.07,168.41 654.5,169 C654.93,169.59 655.53,184.61 656,185 C656.47,185.39 657.43,174.5 658,171.9 C658.57,169.3 659.71,164.34 660.3,165.5 C660.89,166.66 661.85,179.55 662.4,180.6 C662.95,181.65 663.63,173.97 664.4,173.4 C665.17,172.83 667.12,176.19 668.2,176.3 C669.28,176.41 671.34,174.2 672.5,174.2 C673.66,174.2 675.93,176.3 676.9,176.3 C677.87,176.3 679.41,174.48 679.8,174.2" fill="none" stroke="#b13dff" stroke-width="1.2" stroke-linejoin="round" stroke-linecap="round" />
<path d="M678.8,172.8 L682.8,176.8 M678.8,176.8 L682.8,172.8" stroke="#ff0000" stroke-width="1.8" stroke-linecap="butt"/>
<text x="630.4" y="212.5" font-size="8.5" font-family="'Liberation Serif', serif" fill="#404040" stroke="#404040" stroke-width="0.03" text-anchor="start" textLength="24" lengthAdjust="spacingAndGlyphs" >time [<tspan font-style="italic">s</tspan>]</text>
<text x="524.9" y="238" font-size="13.5" font-family="'Liberation Serif', serif" fill="#000" stroke="#000" stroke-width="0.03" text-anchor="start" textLength="16.5" lengthAdjust="spacingAndGlyphs" font-weight="bold" >(b)</text>
</svg></body></html>
